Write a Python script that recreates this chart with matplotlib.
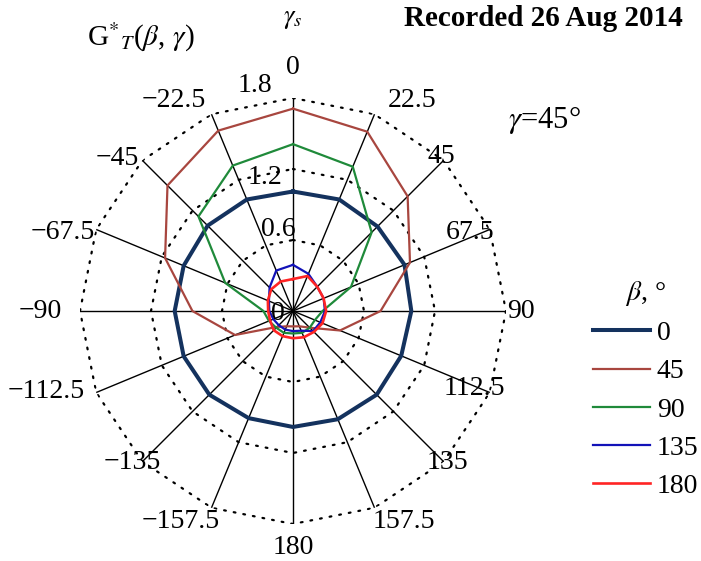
import numpy as np
import matplotlib
matplotlib.use("Agg")
import matplotlib.pyplot as plt

plt.rcParams['font.family'] = ['Liberation Serif', 'DejaVu Serif']
plt.rcParams['mathtext.fontset'] = 'stix'

# azimuth of the spokes, degrees (0 at top, clockwise)
gamma_s = [0, 22.5, 45, 67.5, 90, 112.5, 135, 157.5, 180,
           -157.5, -135, -112.5, -90, -67.5, -45, -22.5]
gamma_labels = ['0', '22.5', '45', '67.5', '90', '112.5', '135', '157.5', '180',
                '\u2212157.5', '\u2212135', '\u2212112.5', '\u221290', '\u221267.5',
                '\u221245', '\u221222.5']
r_ticks = [0.6, 1.2, 1.8]
r_tick_labels = ['0.6', '1.2', '1.8']

beta = ['0', '45', '90', '135', '180']
g_beta0 = [1.01, 1.02, 1.01, 1.02, 1.00, 0.99, 1.00, 0.99, 0.98,
           0.98, 1.00, 1.00, 1.00, 1.00, 1.02, 1.02]
g_beta45 = [1.71, 1.64, 1.37, 1.07, 0.74, 0.43, 0.20, 0.14, 0.13,
            0.14, 0.19, 0.53, 0.85, 1.17, 1.50, 1.65]
g_beta90 = [1.41, 1.32, 0.94, 0.53, 0.25, 0.20, 0.20, 0.20, 0.19,
            0.20, 0.20, 0.22, 0.25, 0.62, 1.13, 1.33]
g_beta135 = [0.39, 0.34, 0.29, 0.28, 0.27, 0.25, 0.24, 0.18, 0.17,
             0.17, 0.17, 0.18, 0.20, 0.22, 0.28, 0.37]
g_beta180 = [0.27, 0.32, 0.29, 0.28, 0.28, 0.27, 0.25, 0.24, 0.23,
             0.23, 0.23, 0.21, 0.21, 0.23, 0.26, 0.27]

series = [g_beta0, g_beta45, g_beta90, g_beta135, g_beta180]
colors = ['#14325e', '#a8463f', '#1f8a3a', '#1212b8', '#ff2424']
widths = [2.9, 1.6, 1.6, 1.6, 1.9]

# label offsets from the spoke ends, pixels (x right, y up)
label_offsets = [(0, 30), (38, 14), (-2, 4), (-20, -3), (15, 0), (-15, 4), (4, -1),
                 (29, -14), (0, -24), (-31, -14), (-10, -1), (-50, 1), (-40, 0),
                 (-33, -3), (-25, 2), (-38, 14)]
r_label_offsets = [(-15, 10), (-28, -9), (-38, 13)]

fig = plt.figure(figsize=(7.01, 5.61), dpi=100)
ax = fig.add_axes([80 / 701, 37 / 561, 426 / 701, 426 / 561], projection='polar')
ax.set_theta_zero_location('N')
ax.set_theta_direction(-1)
ax.set_rlim(0, 1.8)
ax.grid(False)
ax.set_xticks([])
ax.set_yticks([])
ax.spines['polar'].set_visible(False)
ax.patch.set_visible(False)

th = np.deg2rad(gamma_s)
th_closed = np.append(th, th[0])

# spokes
for t in th:
    ax.plot([t, t], [0, 1.8], color='black', lw=1.0, zorder=1)

# dotted polygon grid
for r in r_ticks:
    ax.plot(th_closed, [r] * len(th_closed), color='black', lw=1.6,
            ls=(0, (0.8, 3.6)), dash_capstyle='round', zorder=1)

for vals, c, w, b in zip(series, colors, widths, beta):
    v = np.append(vals, vals[0])
    ax.plot(th_closed, v, color=c, lw=w, label=b, zorder=3)

# angle labels
for t, lab, off in zip(th, gamma_labels, label_offsets):
    ax.annotate(lab, xy=(t, 1.8), xytext=off, textcoords='offset pixels',
                ha='center', va='center', fontsize=20, annotation_clip=False)

# radial labels along the 0 spoke
for r, lab, off in zip(r_ticks, r_tick_labels, r_label_offsets):
    ax.annotate(lab, xy=(0, r), xytext=off, textcoords='offset pixels',
                ha='center', va='center', fontsize=20, annotation_clip=False)
ax.annotate('0', xy=(0, 0), xytext=(-15, -2), textcoords='offset pixels',
            ha='center', va='center', fontsize=20, annotation_clip=False)

fig.text(141 / 701, 1 - 37 / 561, r'G$^{*}{}_{T}$($\beta$, $\gamma$)', fontsize=21,
         ha='center', va='center')
fig.text(293 / 701, 1 - 20 / 561, r'$\gamma_{s}$', fontsize=19, ha='center', va='center')
fig.text(683 / 701, 1 - 18 / 561, 'Recorded 26 Aug 2014', fontsize=21, fontweight='bold',
         ha='right', va='center')
fig.text(544 / 701, 1 - 120 / 561, r'$\gamma$=45°', fontsize=22, ha='center', va='center')

leg = fig.legend(loc='upper left', bbox_to_anchor=(593 / 701, 1 - 279 / 561),
                 frameon=False, fontsize=20, title=r'$\beta$, °', title_fontsize=20,
                 handlelength=2.05, handletextpad=0.25, labelspacing=0.46,
                 borderaxespad=0, borderpad=0)
leg._legend_box.align = 'center'

fig.savefig('out.png', dpi=100)
